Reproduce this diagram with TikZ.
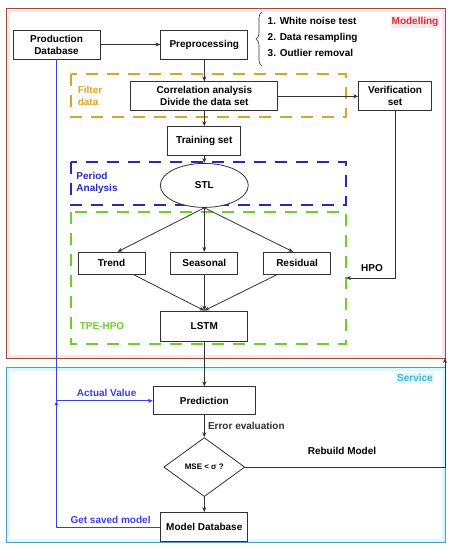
\documentclass[tikz,border=0pt]{standalone}
\usepackage{fontspec}
\setmainfont{Liberation Sans}
\usetikzlibrary{arrows.meta, positioning, shapes.geometric, decorations.pathreplacing}
\definecolor{lineclr}{RGB}{50,50,50}
\definecolor{modframe}{RGB}{150,80,55}
\definecolor{modband}{RGB}{255,228,238}
\definecolor{modtxt}{RGB}{210,50,50}
\definecolor{srvframe}{RGB}{90,150,200}
\definecolor{srvband}{RGB}{215,250,255}
\definecolor{srvtxt}{RGB}{80,170,210}
\definecolor{filtclr}{RGB}{215,165,40}
\definecolor{perclr}{RGB}{40,40,190}
\definecolor{tpeclr}{RGB}{110,205,50}
\definecolor{fbclr}{RGB}{60,60,230}

\begin{document}
\begin{tikzpicture}[
      x=1pt, y=-1pt,
      node distance = 22pt and 60pt,
      box/.style = {draw=lineclr, line width=0.8pt, align=center, font=\bfseries,
                    minimum height=29pt, inner sep=2pt, fill=white},
      sbox/.style = {box, minimum height=22pt, minimum width=67pt},
      stlnode/.style = {ellipse, draw=lineclr, line width=0.8pt, font=\bfseries,
                    minimum width=88pt, minimum height=44pt, fill=white},
      decision/.style = {diamond, draw=lineclr, line width=0.8pt, inner sep=0pt,
                    font=\bfseries\fontsize{8}{10}\selectfont,
                    minimum width=81pt, minimum height=59pt, fill=white},
      region/.style = {line width=1.3pt, dash pattern=on 12pt off 9pt},
      lbl/.style = {font=\bfseries, align=left},
      fb/.style = {fbclr, line width=0.8pt},
      >={Stealth[length=5pt,width=4pt]}, line width=0.8pt
    ]
    \useasboundingbox (0,0) rectangle (453,550);
    % rahmen: modelling + service
    \draw[modband, line width=3pt] (8,10) rectangle (443,356);
    \draw[modframe] (6,8) rectangle (445,358);
    \node[lbl, text=modtxt, fill=modband, inner sep=1pt] (modlbl) at (415,22) {Modelling};
    \draw[srvband, line width=3pt] (8,369) rectangle (443,540);
    \draw[srvframe] (6,367) rectangle (445,542);
    \node[lbl, text=srvtxt, fill=srvband, inner sep=1pt] (srvlbl) at (415,378) {Service};
    % gestrichelte bereiche
    \draw[region, filtclr] (71,74) rectangle (346,117);
    \draw[region, perclr] (71,162) rectangle (346,205);
    \draw[region, tpeclr] (71,212) rectangle (346,344);
    \node[lbl, text=filtclr] (filtlbl) at (90,96) {Filter\\data};
    \node[lbl, text=perclr] (perlbl) at (97,183) {Period\\Analysis};
    \node[lbl, text=tpeclr] (tpelbl) at (102,326) {TPE-HPO};
    % obere kette
    \node[box, minimum width=87pt] (prod) at (56.5,44.5) {Production\\Database};
    \node[box, minimum width=87pt, right=of prod] (pre) {Preprocessing};
    \draw[lineclr, line width=0.6pt, decorate, decoration={brace, amplitude=6pt}]
      (262,66) -- (262,12);
    \node[lbl, anchor=west, font=\bfseries\fontsize{10}{16}\selectfont] (steps) at (264,37)
      {1. White noise test\\2. Data resampling\\3. Outlier removal};
    \node[box, minimum width=147pt, below=of pre] (corr) {Correlation analysis\\Divide the data set};
    \node[box, minimum width=73pt, right=80pt of corr] (veri) {Verification\\set};
    \node[box, minimum width=73pt, below=15pt of corr] (train) {Training set};
    \node[stlnode, below=7pt of train] (stl) {STL};
    % zerlegung
    \node[sbox, below=44pt of stl] (seas) {Seasonal};
    \node[sbox, left=25pt of seas] (trend) {Trend};
    \node[sbox, right=25pt of seas] (resid) {Residual};
    \node[box, minimum width=87pt, minimum height=30pt, below=36pt of seas] (lstm) {LSTM};
    % service teil
    \node[box, minimum width=102pt, minimum height=28pt, below=45pt of lstm] (pred) {Prediction};
    \node[decision, below=of pred] (mse) {MSE < σ ?};
    \node[box, minimum width=87pt, below=15pt of mse] (mdb) {Model Database};
    \coordinate (hpoin) at (346,278);
    \coordinate (rebuild) at (445,358);
    % verbindungen
    \draw[->, lineclr] (prod) -- (pre);
    \draw[->, lineclr] (pre) -- (corr);
    \draw[->, lineclr] (corr) -- (veri);
    \draw[->, lineclr] (corr) -- (train);
    \draw[->, lineclr] (train) -- (stl);
    \draw[->, lineclr] (stl.south) -- ([xshift=6pt]trend.north);
    \draw[->, lineclr] (stl.south) -- (seas);
    \draw[->, lineclr] (stl.south) -- ([xshift=-4pt]resid.north);
    \draw[->, lineclr] ([xshift=22pt]trend.south) -- (lstm.north);
    \draw[->, lineclr] (seas) -- (lstm);
    \draw[->, lineclr] ([xshift=-20pt]resid.south) -- (lstm.north);
    \draw[->, lineclr] (veri) |- (hpoin);
    \node[lbl] (hpolbl) at (372,268) {HPO};
    \draw[->, lineclr] (lstm) -- (pred);
    \draw[->, lineclr] (pred) -- node[lbl, right]{Error evaluation} (mse);
    \draw[->, lineclr] (mse) -- (mdb);
    \draw[->, lineclr] (mse) -| (rebuild);
    \node[lbl] (rblbl) at (342,451) {Rebuild Model};
    % rueckkopplung (blau)
    \draw[->, fb] (prod) |- node[pos=0.76, above, lbl, text=fbclr]{Actual Value} (pred);
    \draw[->, fb] (mdb) -| node[pos=0.24, above, lbl, text=fbclr]{Get saved model} (prod.south |- pred.west);
\end{tikzpicture}
\end{document}
